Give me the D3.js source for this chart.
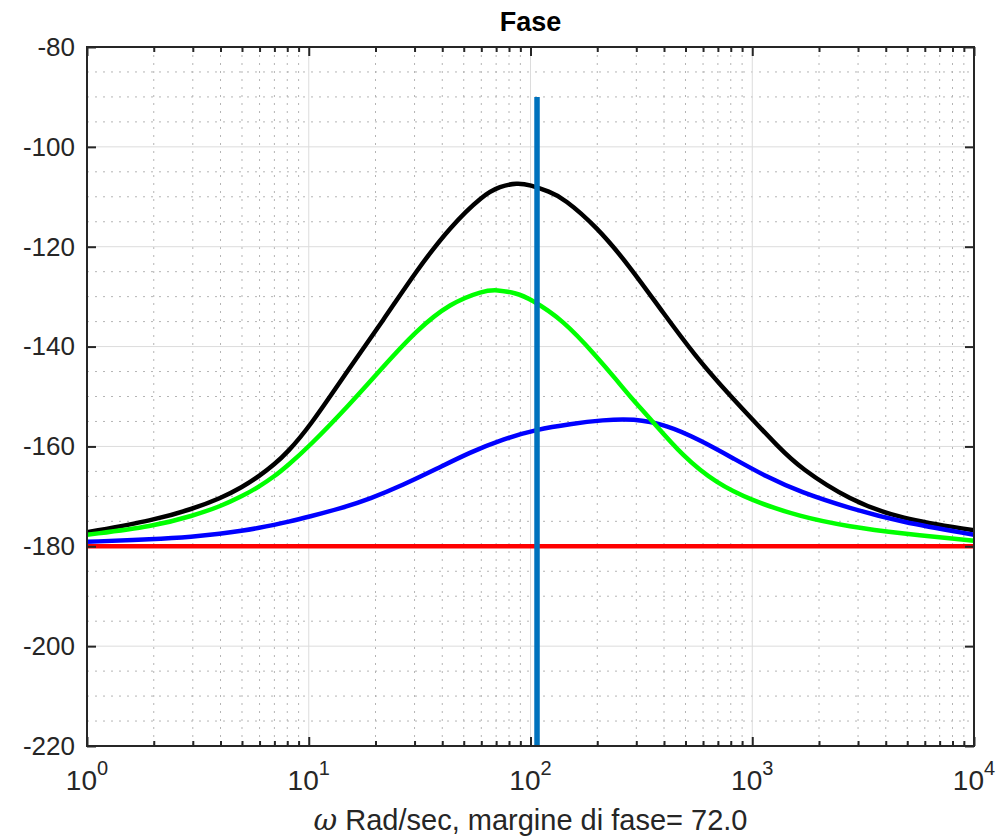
<!DOCTYPE html>
<html>
<head>
<meta charset="utf-8">
<script src="https://cdn.jsdelivr.net/npm/d3@7"></script>
<style>
  body { margin: 0; background: #fff; }
  text { font-family: "Liberation Sans", Arial, sans-serif; fill: #262626; }
</style>
</head>
<body>
<svg id="canvas" width="999" height="838"></svg>
<script>
// values: [omega (rad/s), phase (deg)]
var blackSeries = [[1,-177.2],[2,-174.8],[3,-172.5],[4,-170.4],[5,-168.2],[6,-165.9],[7,-163.6],[8,-161.2],[10,-156.3],
  [15.3,-144.2],[21.7,-134.7],[30.7,-124.7],[43.4,-116.0],[61.3,-109.6],[72.8,-107.9],[87,-107.2],[99.4,-107.6],[122,-109.0],
  [141,-110.3],[199,-116.0],[281,-124.0],[397,-133.3],[561,-142.2],[716,-147.6],[977,-154.1],[1306,-160.0],
  [1641,-164.3],[2760,-170.8],[4640,-174.5],[10000,-176.8]];

var greenSeries = [[1,-177.7],[2,-176.0],[3,-173.9],[4,-172.0],[5,-170.0],[6,-168.0],[7,-166.0],[8,-163.9],[10,-160.1],
  [15.3,-151.6],[21.7,-144.0],[30.7,-136.7],[43.4,-131.3],[61.3,-128.8],[70.4,-128.6],[86.6,-129.3],[99.4,-130.4],
  [140.6,-134.7],[198.8,-142.0],[244.5,-146.7],[281,-150.0],[346,-154.4],[489,-162.1],[691,-167.4],
  [977,-170.7],[1641,-174.1],[2760,-176.1],[4640,-177.4],[10000,-178.9]];

var blueSeries = [[1,-179.1],[2,-178.6],[3,-178.1],[4,-177.5],[5,-176.9],[6,-176.3],[7,-175.7],[8,-175.15],[10,-174.1],
  [14,-172.4],[18.9,-170.5],[26.7,-167.7],[37.7,-164.5],[53.3,-161.2],[75.4,-158.5],[106.6,-156.6],[150.7,-155.5],
  [213,-154.7],[291,-154.4],[411,-155.7],[581,-158.7],[822,-162.4],[1161,-166.1],[1641,-169.1],[2760,-172.4],
  [4640,-175.1],[10000,-177.7]];

var redSeries = [[1,-180],[10000,-180]];

// crossover marker
var crossover = [[107,-90],[107,-220]];

var xTicks = [1, 10, 100, 1000, 10000];
var xExponents = ["0", "1", "2", "3", "4"];
var yTicks = [-220, -200, -180, -160, -140, -120, -100, -80];

var svg = d3.select("#canvas"),
    plotLeft = 87, plotRight = 974, plotTop = 47, plotBottom = 746;

var x = d3.scaleLog().domain([1, 10000]).range([plotLeft, plotRight]);
var y = d3.scaleLinear().domain([-220, -80]).range([plotBottom, plotTop]);

// minor grid positions
var xMinor = [];
[1, 10, 100, 1000].forEach(function(d) {
  for (var k = 2; k <= 9; k++) xMinor.push(d * k);
});
var yMinor = d3.range(-215, -80, 5).filter(function(v) { return v % 20 !== 0; });

var grid = svg.append("g");

grid.selectAll(".minx")
  .data(xMinor)
  .enter().append("line")
  .attr("x1", function(d) { return x(d); })
  .attr("x2", function(d) { return x(d); })
  .attr("y1", plotTop).attr("y2", plotBottom)
  .style("stroke", "#b4b4b4")
  .style("stroke-dasharray", "2,6");

grid.selectAll(".miny")
  .data(yMinor)
  .enter().append("line")
  .attr("x1", plotLeft).attr("x2", plotRight)
  .attr("y1", function(d) { return y(d); })
  .attr("y2", function(d) { return y(d); })
  .style("stroke", "#b4b4b4")
  .style("stroke-dasharray", "2,6");

grid.selectAll(".majx")
  .data(xTicks)
  .enter().append("line")
  .attr("x1", function(d) { return x(d); })
  .attr("x2", function(d) { return x(d); })
  .attr("y1", plotTop).attr("y2", plotBottom)
  .style("stroke", "#dcdcdc");

grid.selectAll(".majy")
  .data(yTicks)
  .enter().append("line")
  .attr("x1", plotLeft).attr("x2", plotRight)
  .attr("y1", function(d) { return y(d); })
  .attr("y2", function(d) { return y(d); })
  .style("stroke", "#dcdcdc");

// curves (basis spline smooths out reading noise)
var line = d3.line()
  .x(function(d) { return x(d[0]); })
  .y(function(d) { return y(d[1]); })
  .curve(d3.curveBasis);

var plot = svg.append("g");

[[blackSeries, "#000000"], [blueSeries, "#0000ff"], [greenSeries, "#00ff00"], [redSeries, "#ff0000"]]
  .forEach(function(s) {
    plot.append("path")
      .datum(s[0])
      .attr("d", line)
      .style("fill", "none")
      .style("stroke", s[1])
      .style("stroke-width", 4.5);
  });

plot.append("path")
  .datum(crossover)
  .attr("d", d3.line().x(function(d) { return x(d[0]); }).y(function(d) { return y(d[1]); }))
  .style("fill", "none")
  .style("stroke", "#0072bd")
  .style("stroke-width", 5.5);

// axes: ticks pointing inward on all four sides
var axes = svg.append("g");

axes.append("g")
  .attr("transform", "translate(0," + plotBottom + ")")
  .call(d3.axisBottom(x).tickValues(xMinor).tickSizeInner(-5).tickSizeOuter(0).tickFormat(""));
axes.append("g")
  .attr("transform", "translate(0," + plotBottom + ")")
  .call(d3.axisBottom(x).tickValues(xTicks).tickSizeInner(-9).tickSizeOuter(0).tickFormat(""));
axes.append("g")
  .attr("transform", "translate(0," + plotTop + ")")
  .call(d3.axisTop(x).tickValues(xMinor).tickSizeInner(-5).tickSizeOuter(0).tickFormat(""));
axes.append("g")
  .attr("transform", "translate(0," + plotTop + ")")
  .call(d3.axisTop(x).tickValues(xTicks).tickSizeInner(-9).tickSizeOuter(0).tickFormat(""));
axes.append("g")
  .attr("transform", "translate(" + plotRight + ",0)")
  .call(d3.axisRight(y).tickValues(yTicks).tickSizeInner(-9).tickSizeOuter(0).tickFormat(""));

var yAxis = axes.append("g")
  .attr("transform", "translate(" + plotLeft + ",0)")
  .call(d3.axisLeft(y).tickValues(yTicks).tickSizeInner(-9).tickSizeOuter(0).tickPadding(12)
    .tickFormat(function(d) { return String(d); }));

axes.selectAll(".domain").remove();
axes.selectAll(".tick line").style("stroke", "#262626").style("stroke-width", 2);

yAxis.selectAll("text")
  .style("font-size", "26px")
  .style("font-family", "'Liberation Sans', Arial, sans-serif")
  .style("fill", "#262626");

// box
svg.append("rect")
  .attr("x", plotLeft).attr("y", plotTop)
  .attr("width", plotRight - plotLeft).attr("height", plotBottom - plotTop)
  .style("fill", "none")
  .style("stroke", "#262626")
  .style("stroke-width", 2);

// x tick labels 10^n
var xl = svg.append("g").selectAll("text")
  .data(xTicks)
  .enter().append("text")
  .attr("x", function(d) { return x(d); })
  .attr("y", 790)
  .attr("text-anchor", "middle")
  .style("font-size", "28px");
xl.append("tspan").text("10");
xl.append("tspan")
  .attr("dy", -15)
  .style("font-size", "20px")
  .text(function(d, i) { return xExponents[i]; });

// title and axis label
svg.append("text")
  .attr("x", (plotLeft + plotRight) / 2)
  .attr("y", 31)
  .attr("text-anchor", "middle")
  .style("font-size", "27px")
  .style("font-weight", "bold")
  .style("fill", "#000")
  .text("Fase");

var xlabel = svg.append("text")
  .attr("x", (plotLeft + plotRight) / 2)
  .attr("y", 830)
  .attr("text-anchor", "middle")
  .style("font-size", "29px");
xlabel.append("tspan")
  .style("font-family", "'DejaVu Serif', serif")
  .style("font-style", "italic")
  .text("ω");
xlabel.append("tspan").text(" Rad/sec, margine di fase= 72.0");
</script>
</body>
</html>
